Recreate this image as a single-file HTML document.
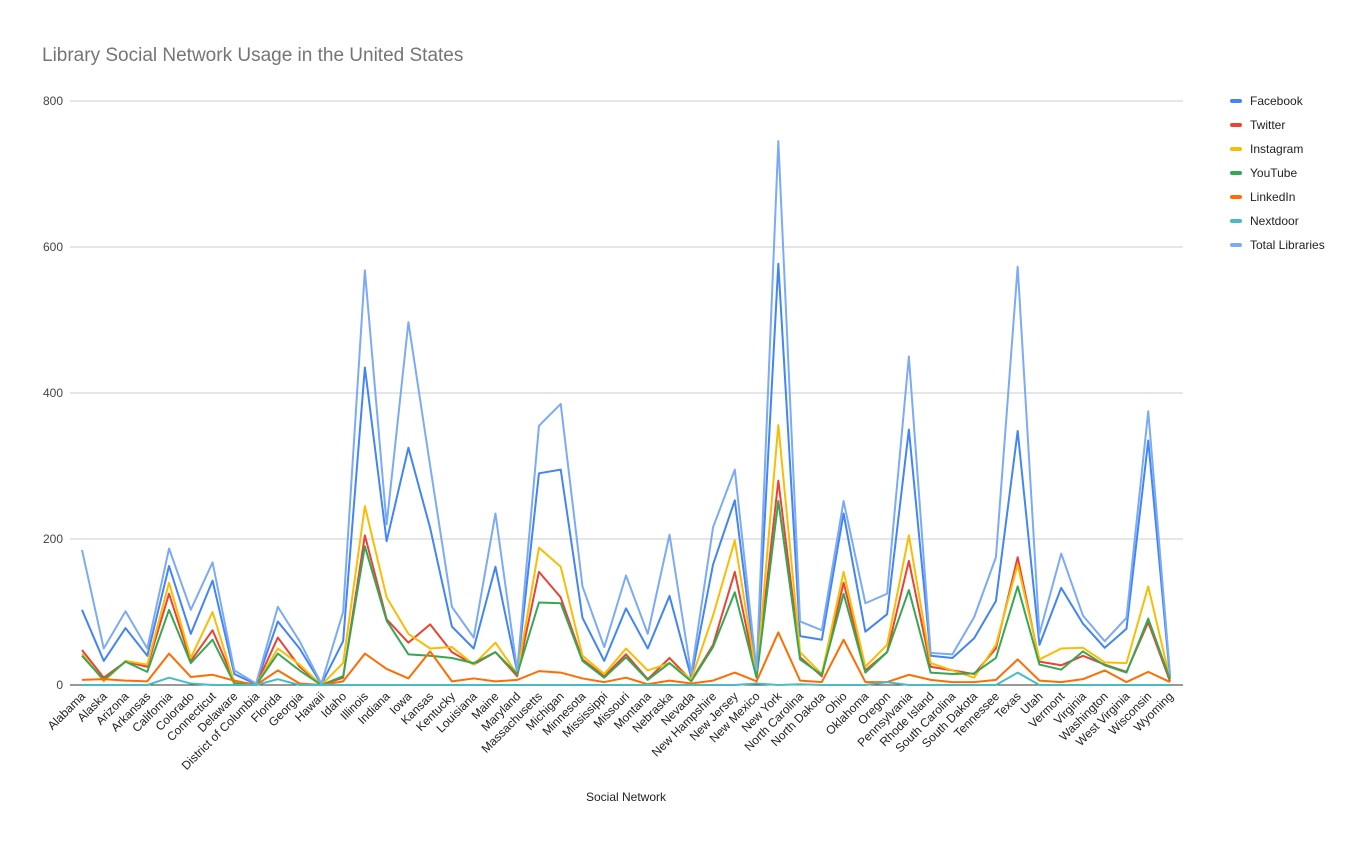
<!DOCTYPE html>
<html><head><meta charset="utf-8"><style>
body{margin:0;background:#fff;font-family:"Liberation Sans",Arial,sans-serif}
svg{display:block}
</style></head><body>
<svg id="chart" width="1371" height="847">
<text x="42" y="61" font-size="19" fill="#757575">Library Social Network Usage in the United States</text>
<text x="626" y="801" font-size="12" fill="#222" text-anchor="middle">Social Network</text>
<g id="grid"></g><g id="series"></g><g id="xlabels"></g><g id="legend"></g>
</svg>
<script>
const states=["Alabama","Alaska","Arizona","Arkansas","California","Colorado","Connecticut","Delaware","District of Columbia","Florida","Georgia","Hawaii","Idaho","Illinois","Indiana","Iowa","Kansas","Kentucky","Louisiana","Maine","Maryland","Massachusetts","Michigan","Minnesota","Mississippi","Missouri","Montana","Nebraska","Nevada","New Hampshire","New Jersey","New Mexico","New York","North Carolina","North Dakota","Ohio","Oklahoma","Oregon","Pennsylvania","Rhode Island","South Carolina","South Dakota","Tennessee","Texas","Utah","Vermont","Virginia","Washington","West Virginia","Wisconsin","Wyoming"];
const facebook=[103,33,78,40,163,70,143,15,1,87,50,1,60,435,197,325,215,80,50,162,18,290,295,92,33,105,50,122,10,165,253,15,577,67,62,235,73,97,350,40,37,64,115,348,55,133,84,51,77,335,10];
const twitter=[48,10,32,25,125,33,75,5,0,65,25,0,10,205,90,58,83,45,28,45,12,155,120,35,12,42,8,37,6,55,155,12,280,38,12,140,20,45,170,25,20,15,50,175,32,27,40,28,18,86,5];
const instagram=[43,5,33,28,140,37,100,3,0,50,28,0,30,245,120,70,50,52,28,58,15,188,162,40,15,50,20,30,8,95,198,12,356,45,15,155,25,55,205,30,20,10,55,165,35,50,51,31,30,135,8];
const youtube=[40,7,32,18,103,30,62,2,0,43,20,0,12,190,88,42,40,37,30,45,15,113,112,33,10,38,7,30,5,52,127,10,252,35,14,125,17,45,130,17,15,16,37,135,28,21,46,27,17,91,8];
const linkedin=[7,8,6,5,43,11,14,6,0,20,2,0,5,43,22,9,46,5,9,5,7,19,17,9,4,10,1,6,2,6,17,5,72,6,4,62,4,4,14,7,4,4,7,35,6,4,8,20,4,18,4];
const nextdoor=[0,0,0,0,10,2,0,0,0,8,0,0,0,0,0,0,0,0,0,0,0,0,0,0,0,0,0,0,0,0,0,2,0,1,0,0,0,4,0,0,0,0,0,17,0,0,0,0,0,0,0];
const totalLibraries=[185,50,101,50,187,103,168,20,2,107,60,2,100,568,220,497,300,107,65,235,20,355,385,135,52,150,70,206,15,216,295,20,745,87,75,252,112,125,450,44,42,93,175,573,70,180,95,60,92,375,15];
const seriesNames=["Facebook","Twitter","Instagram","YouTube","LinkedIn","Nextdoor","Total Libraries"];
const yTicks=[0,200,400,600,800];
const NS="http://www.w3.org/2000/svg";
const colors=["#4285f4","#ea4335","#fbbc04","#34a853","#ff6d01","#46bdc6","#7baaf7"];
const seriesData=[facebook,twitter,instagram,youtube,linkedin,nextdoor,totalLibraries];
const x0=82,x1=1170,yBase=685,yTop=101,yMax=800;
const xs=i=>x0+i*(x1-x0)/(states.length-1);
const ys=v=>yBase-v*(yBase-yTop)/yMax;
function mk(t,a,p){const e=document.createElementNS(NS,t);for(const k in a)e.setAttribute(k,a[k]);p.appendChild(e);return e;}
const grid=document.getElementById('grid');
yTicks.forEach(v=>{
 const l=mk('line',{x1:70,x2:1183,y1:ys(v),y2:ys(v),stroke:v===0?'#333':'#ccc','stroke-width':1},grid);
 
 
 const t=mk('text',{x:63,y:ys(v)+4,'font-size':12,fill:'#444','text-anchor':'end'},grid);
 t.textContent=v;
 
 
});
const sg=document.getElementById('series');
seriesData.forEach((d,s)=>{
 const p=mk('polyline',{points:d.map((v,i)=>xs(i)+','+ys(v)).join(' '),fill:'none',stroke:colors[s],'stroke-width':2,'stroke-linejoin':'round'},sg);
 
 
});
const xl=document.getElementById('xlabels');
states.forEach((s,i)=>{
 const t=mk('text',{x:xs(i)+4,y:697,'font-size':12,fill:'#222','text-anchor':'end',transform:`rotate(-45 ${xs(i)+4} 697)`},xl);
 t.textContent=s;
 
 
});
const lg=document.getElementById('legend');
seriesNames.forEach((n,i)=>{
 const y=101+i*24;
 const g=mk('g',{},lg);
 
 
 mk('rect',{x:1230,y:y-2,width:12,height:4,rx:2,fill:colors[i]},g);
 const t=mk('text',{x:1250,y:y+4,'font-size':12,fill:'#222'},g);
 t.textContent=n;
});
</script>
</body></html>
